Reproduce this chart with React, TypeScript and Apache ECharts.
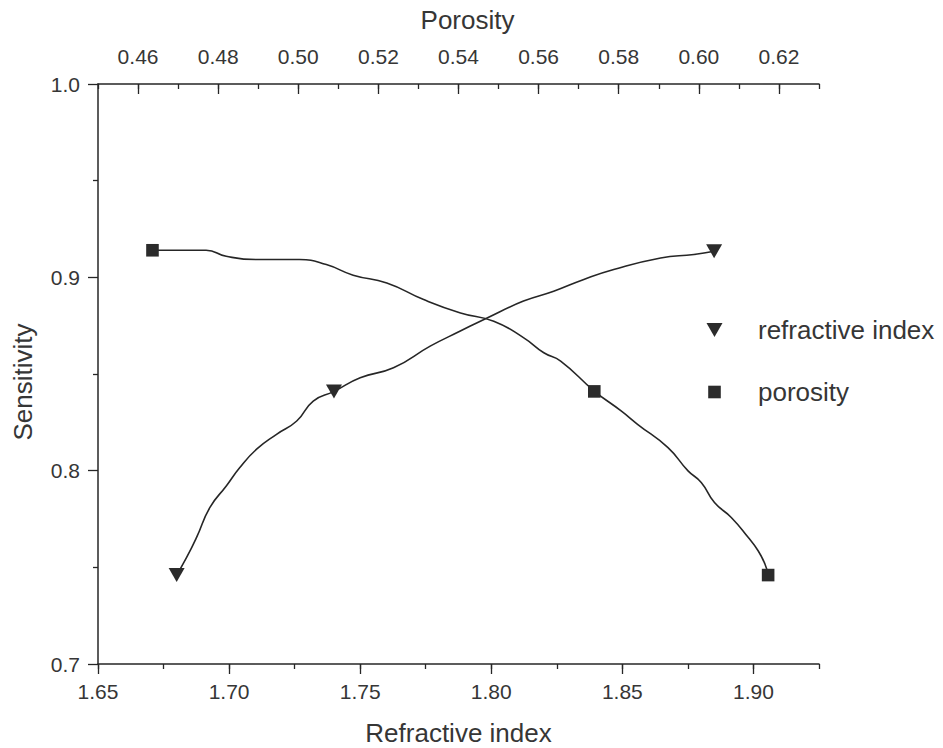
import React, { useEffect, useRef } from "react";
import * as echarts from "echarts";

// Bottom axis: refractive index; top axis: porosity; left: sensitivity
const riTicks = [1.65, 1.7, 1.75, 1.8, 1.85, 1.9];
const poTicks = [0.46, 0.48, 0.5, 0.52, 0.54, 0.56, 0.58, 0.6, 0.62];

// Marker data
const riMarkX = [1.68, 1.74, 1.885];
const riMarkY = [0.746, 0.841, 0.9135];
const poMarkX = [0.4636, 0.5739, 0.6173];
const poMarkY = [0.914, 0.841, 0.746];

// Spline curves
const riCurveX = [1.68, 1.6838, 1.6876, 1.6927, 1.699, 1.7041, 1.7105, 1.7181, 1.7258, 1.7321, 1.74, 1.75, 1.7627, 1.7767, 1.7882, 1.7984, 1.8123, 1.8238, 1.8353, 1.8467, 1.8646, 1.8773, 1.885];
const riCurveY = [0.746, 0.7551, 0.7655, 0.781, 0.7922, 0.8016, 0.8111, 0.8188, 0.8257, 0.836, 0.841, 0.8481, 0.8532, 0.8644, 0.8722, 0.879, 0.8877, 0.8928, 0.8989, 0.904, 0.91, 0.9118, 0.9135];
const poCurveX = [0.4636, 0.477, 0.482, 0.4895, 0.5003, 0.507, 0.5137, 0.5221, 0.5313, 0.5405, 0.5488, 0.5563, 0.5613, 0.5655, 0.5739, 0.5806, 0.5847, 0.5923, 0.5973, 0.6006, 0.6039, 0.6081, 0.6123, 0.6148, 0.6165, 0.6173];
const poCurveY = [0.914, 0.914, 0.9109, 0.9092, 0.9092, 0.9066, 0.9011, 0.8971, 0.8885, 0.8816, 0.8773, 0.8687, 0.861, 0.8567, 0.8412, 0.8309, 0.824, 0.8119, 0.7999, 0.7939, 0.7835, 0.7758, 0.7655, 0.7586, 0.7517, 0.7462];

const FONT = "'Liberation Sans', Arial, sans-serif";
const INK = "#262626";
const TXT = "#363636";
const TRI = "path://M0,0L16,0L8,14Z";
const SQ = "path://M0,0M17,14M2.2,0.7L14.8,0.7L14.8,13.3L2.2,13.3Z";

const zip = (xs: number[], ys: number[]) => xs.map((x, i) => [x, ys[i]]);

export default function App() {
  const ref = useRef<HTMLDivElement>(null);
  useEffect(() => {
    document.body.style.margin = "0";
    const chart = echarts.init(ref.current!, null, { renderer: "svg" });
    const lineCommon = { show: true, lineStyle: { color: INK, width: 1.5 } };
    const labelCommon = { fontSize: 21, fontFamily: FONT, color: TXT };
    const nameCommon = { fontSize: 26, fontFamily: FONT, color: TXT };
    chart.setOption({
      animation: false,
      backgroundColor: "#ffffff",
      grid: { left: 98, right: 124, top: 84, bottom: 84, containLabel: false, outerBoundsMode: "none" },
      legend: {
        orient: "vertical",
        left: 701,
        top: 312,
        itemWidth: 17,
        itemHeight: 14,
        itemGap: 36,
        textStyle: { fontSize: 26, fontFamily: FONT, color: TXT, padding: [0, 0, 0, 30], lineHeight: 26 },
        data: [
          { name: "refractive index", icon: TRI },
          { name: "porosity", icon: SQ },
        ],
      },
      xAxis: [
        {
          type: "value", position: "bottom", min: 1.65, max: 1.925, interval: 0.025,
          axisLine: { ...lineCommon, onZero: false },
          axisTick: { show: true, length: 5, lineStyle: { color: INK, width: 1.3 } },
          axisLabel: { show: false }, splitLine: { show: false },
        },
        {
          type: "value", position: "bottom", min: 1.65, max: 1.925, interval: 0.025,
          axisLine: { show: false, onZero: false },
          axisTick: { show: true, length: 10, customValues: riTicks, lineStyle: { color: INK, width: 1.3 } },
          axisLabel: { ...labelCommon, margin: 17, customValues: riTicks, formatter: (v: number) => v.toFixed(2) },
          splitLine: { show: false },
          name: "Refractive index", nameLocation: "middle", nameGap: 56, nameTextStyle: nameCommon,
        },
        {
          type: "value", position: "top", min: 0.45, max: 0.63, interval: 0.01,
          axisLine: { ...lineCommon, onZero: false },
          axisTick: { show: true, inside: true, length: 5, lineStyle: { color: INK, width: 1.3 } },
          axisLabel: { show: false }, splitLine: { show: false },
        },
        {
          type: "value", position: "top", min: 0.45, max: 0.63, interval: 0.01,
          axisLine: { show: false, onZero: false },
          axisTick: { show: true, inside: true, length: 10, customValues: poTicks, lineStyle: { color: INK, width: 1.3 } },
          axisLabel: { ...labelCommon, margin: 17, customValues: poTicks, formatter: (v: number) => v.toFixed(2) },
          splitLine: { show: false },
          name: "Porosity", nameLocation: "middle", nameGap: 51,
          nameTextStyle: { ...nameCommon, padding: [0, 0, 0, 18] },
        },
      ],
      yAxis: [
        {
          type: "value", position: "left", min: 0.7, max: 1.0, interval: 0.1,
          axisLine: { ...lineCommon, onZero: false },
          axisTick: { show: true, length: 10, lineStyle: { color: INK, width: 1.3 } },
          minorTick: { show: true, splitNumber: 2, length: 5, lineStyle: { color: INK, width: 1.3 } },
          axisLabel: { ...labelCommon, margin: 18, formatter: (v: number) => v.toFixed(1) },
          splitLine: { show: false },
          name: "Sensitivity", nameLocation: "middle", nameGap: 62,
          nameTextStyle: { ...nameCommon, padding: [0, 16, 0, 0] },
        },
      ],
      series: [
        {
          type: "line", xAxisIndex: 0, yAxisIndex: 0, data: zip(riCurveX, riCurveY),
          showSymbol: false, smooth: 0.5, lineStyle: { color: INK, width: 1.6 }, silent: true,
        },
        {
          type: "line", xAxisIndex: 2, yAxisIndex: 0, data: zip(poCurveX, poCurveY),
          showSymbol: false, smooth: 0.5, lineStyle: { color: INK, width: 1.6 }, silent: true,
        },
        {
          name: "refractive index", type: "scatter", xAxisIndex: 0, yAxisIndex: 0,
          data: zip(riMarkX, riMarkY), symbol: TRI, symbolSize: [16, 14],
          itemStyle: { color: "#2b2b2b", opacity: 1 }, z: 5,
        },
        {
          name: "porosity", type: "scatter", xAxisIndex: 2, yAxisIndex: 0,
          data: zip(poMarkX, poMarkY), symbol: "rect", symbolSize: 12.6,
          itemStyle: { color: "#2b2b2b", opacity: 1 }, z: 5,
        },
      ],
    });
    return () => chart.dispose();
  }, []);
  return <div ref={ref} style={{ width: 943, height: 748 }} />;
}
